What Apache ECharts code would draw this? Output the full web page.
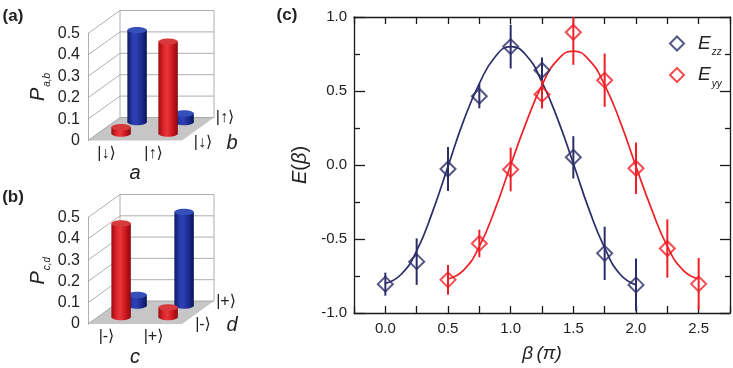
<!DOCTYPE html>
<html><head><meta charset="utf-8">
<script src="https://cdn.jsdelivr.net/npm/echarts@6/dist/echarts.min.js"></script>
<style>html,body{margin:0;padding:0;background:#fff}#c{width:733px;height:368px}</style>
</head><body><div id="c"></div><script>
// ---------- data: panel (a) ----------
const aCats = ['|↓⟩', '|↑⟩'];          // a (front axis)
const bCats = ['|↓⟩', '|↑⟩'];          // b (depth axis: front row, back row)
const Pab_bDown = [0.03, 0.43];        // b = |↓⟩ (red, front row)
const Pab_bUp   = [0.43, 0.04];        // b = |↑⟩ (blue, back row)
// ---------- data: panel (b) ----------
const cCats = ['|-⟩', '|+⟩'];
const dCats = ['|-⟩', '|+⟩'];
const Pcd_dMinus = [0.44, 0.045];      // d = |-⟩ (red, front row)
const Pcd_dPlus  = [0.05, 0.44];       // d = |+⟩ (blue, back row)
const pTicks = [0, 0.1, 0.2, 0.3, 0.4, 0.5];
// ---------- data: panel (c) ----------
const betaZz = [0, 0.25, 0.5, 0.75, 1.0, 1.25, 1.5, 1.75, 2.0];
const Ezz    = [-0.805, -0.653, -0.027, 0.465, 0.80, 0.64, 0.052, -0.597, -0.81];
const EzzErr = [0.078, 0.157, 0.148, 0.082, 0.148, 0.087, 0.143, 0.18, 0.179];
const betaYy = [0.5, 0.75, 1.0, 1.25, 1.5, 1.75, 2.0, 2.25, 2.5];
const Eyy    = [-0.776, -0.53, -0.03, 0.477, 0.897, 0.573, -0.022, -0.564, -0.803];
const EyyErr = [0.10, 0.093, 0.148, 0.095, 0.22, 0.18, 0.174, 0.197, 0.175];
const fitZzX = [0, 0.125, 0.25, 0.375, 0.5, 0.625, 0.75, 0.875, 1.0, 1.125, 1.25, 1.375, 1.5, 1.625, 1.75, 1.875, 2.0];
const fitZzY = [-0.80, -0.74, -0.58, -0.32, -0.01, 0.30, 0.55, 0.73, 0.80, 0.74, 0.56, 0.31, 0.01, -0.30, -0.56, -0.74, -0.81];
const fitYyX = [0.5, 0.625, 0.75, 0.875, 1.0, 1.125, 1.25, 1.375, 1.5, 1.625, 1.75, 1.875, 2.0, 2.125, 2.25, 2.375, 2.5];
const fitYyY = [-0.77, -0.71, -0.55, -0.30, 0.0, 0.29, 0.54, 0.71, 0.77, 0.71, 0.54, 0.29, -0.01, -0.30, -0.55, -0.71, -0.77];

// ---------- styling / layout ----------
const FF = '"Liberation Sans", Arial, "DejaVu Sans", sans-serif';
const NAVY = '#2c2d68', RED = '#ee2127';
const DEPTH = [32, -23];            // oblique offset of the back wall
const ROW_DEPTH = [0.3, 0.8];       // depth fraction of front / back rows
const WALL = '#9a9a9a';
const PAL = [
  {stops: [{offset:0,color:'#9a0b11'},{offset:0.28,color:'#df272d'},{offset:0.45,color:'#e8373b'},{offset:0.75,color:'#c9141b'},{offset:1,color:'#8a0a0f'}], top:'#d73a3c'},
  {stops: [{offset:0,color:'#0e1863'},{offset:0.28,color:'#2a3db0'},{offset:0.45,color:'#2c40b2'},{offset:0.75,color:'#1a2a8c'},{offset:1,color:'#0b1457'}], top:'#3550b8'}
];

function wallRender(params, api) {
  const cs = params.coordSys;
  const x0 = cs.x, x1 = cs.x + cs.width;
  const yb = api.coord([0, 0])[1], yt = api.coord([0, pTicks[pTicks.length-1]])[1];
  const [dx, dy] = DEPTH;
  const ch = [];
  ch.push({type:'polygon', shape:{points:[[x0,yb],[x1,yb],[x1+dx,yb+dy],[x0+dx,yb+dy]]}, style:{fill:'#c6c6c6'}});
  pTicks.forEach(v => {
    const y = api.coord([0, v])[1];
    ch.push({type:'line', shape:{x1:x0+dx, y1:y+dy, x2:x1+dx, y2:y+dy}, style:{stroke:WALL, lineWidth:0.8}});
    ch.push({type:'line', shape:{x1:x0, y1:y, x2:x0+dx, y2:y+dy}, style:{stroke:WALL, lineWidth:0.8}});
  });
  ch.push({type:'line', shape:{x1:x0+dx, y1:yb+dy, x2:x0+dx, y2:yt+dy}, style:{stroke:WALL, lineWidth:0.8}});
  ch.push({type:'line', shape:{x1:x1+dx, y1:yb+dy, x2:x1+dx, y2:yt+dy}, style:{stroke:WALL, lineWidth:0.8}});
  return {type:'group', children: ch};
}

function cylRender(params, api) {
  const i = api.value(0), row = api.value(1), v = api.value(2);
  const t = ROW_DEPTH[row];
  const b = api.coord([i, 0]), tp = api.coord([i, v]);
  const dx = t * DEPTH[0], dy = t * DEPTH[1];
  const cx = b[0] + dx, yb = b[1] + dy, yt = tp[1] + dy;
  const rx = api.size([1, 0])[0] * 0.207, ry = 3.2;
  const pal = PAL[row];
  const grad = () => new echarts.graphic.LinearGradient(0, 0, 1, 0, pal.stops);
  return {type:'group', children:[
    {type:'rect', shape:{x:cx-rx, y:yt, width:2*rx, height:yb-yt}, style:{fill:grad()}},
    {type:'ellipse', shape:{cx:cx, cy:yb, rx:rx, ry:ry}, style:{fill:grad()}},
    {type:'ellipse', shape:{cx:cx, cy:yt, rx:rx, ry:ry}, style:{fill:pal.top}}
  ]};
}

function barData(front, back) {
  return [...back.map((v, i) => [i, 1, v]), ...front.map((v, i) => [i, 0, v])];
}

const pLabelFmt = v => v === 0 ? '0' : v.toFixed(1);
function leftX(idx, cats, name) {
  return {gridIndex: idx, type:'category', data: cats, axisLine:{show:false}, axisTick:{show:false},
    axisLabel:{fontSize:16, color:'#222', fontFamily:FF, margin:5, padding:[0,10,0,0]},
    name: name, nameLocation:'middle', nameGap:23,
    nameTextStyle:{fontSize:20, fontStyle:'italic', color:'#222', fontFamily:FF}};
}
function leftY(idx, sub) {
  return {gridIndex: idx, type:'value', min:0, max:0.5, interval:0.1,
    axisLine:{show:true, lineStyle:{color:WALL, width:0.8}}, axisTick:{show:false}, splitLine:{show:false},
    axisLabel:{fontSize:16, color:'#222', fontFamily:FF, margin:8, formatter:pLabelFmt},
    name:'{p|P}{s|' + sub + '}', nameLocation:'middle', nameGap:40,
    nameTextStyle:{color:'#222', fontFamily:FF, rich:{
      p:{fontSize:20, fontStyle:'italic', fontFamily:FF, color:'#222'},
      s:{fontSize:10, fontStyle:'italic', fontFamily:FF, color:'#222', verticalAlign:'bottom', padding:[0,0,-4,1]}}}};
}

const AX = '#1a1a1a';
const xc = v => (v >= 0 && v <= 2.5 && Math.abs(v*2 - Math.round(v*2)) < 1e-6) ? v.toFixed(1) : '';
function cX(pos, labels) {
  return {gridIndex:2, type:'value', position:pos, min:-0.25, max:2.75, interval:0.25,
    axisLine:{show:true, onZero:false, lineStyle:{color:AX, width:1.3}},
    axisTick:{show:true, inside:true, length:7, lineStyle:{color:AX, width:1.3}},
    splitLine:{show:false},
    axisLabel:{show:labels, formatter:xc, fontSize:15, color:'#222', fontFamily:FF, margin:8},
    name: labels ? '{g|β} {g|(π)}' : '', nameLocation:'middle', nameGap:31,
    nameTextStyle:{color:'#222', rich:{g:{fontSize:19, fontFamily:FF, color:'#222', fontStyle:'italic'}}}};
}
function cY(pos, labels) {
  return {gridIndex:2, type:'value', position:pos, min:-1, max:1, interval:0.5,
    axisLine:{show:true, onZero:false, lineStyle:{color:AX, width:1.3}},
    axisTick:{show:true, inside:true, length:labels ? 11 : 10, lineStyle:{color:AX, width:1.3}},
    minorTick:{show:true, splitNumber:2, length:labels ? 6 : 5, lineStyle:{color:AX, width:1.3}},
    splitLine:{show:false}, minorSplitLine:{show:false},
    axisLabel:{show:labels, formatter:v => v.toFixed(1), fontSize:15, color:'#222', fontFamily:FF, margin:7},
    name: labels ? '{i|E}{n|(}{i|β}{n|)}' : '', nameLocation:'middle', nameGap:38,
    nameTextStyle:{color:'#222', rich:{
      i:{fontSize:20, fontStyle:'italic', fontFamily:FF, color:'#222'},
      n:{fontSize:20, fontFamily:FF, color:'#222'}}}};
}

function errSeries(xs, ys, errs, color) {
  return {type:'custom', xAxisIndex:2, yAxisIndex:2, clip:true, silent:true, z:4,
    data: xs.map((x, i) => [x, ys[i] - errs[i], ys[i] + errs[i]]),
    encode:{x:0, y:[1, 2]},
    renderItem:(p, api) => {
      const lo = api.coord([api.value(0), api.value(1)]);
      const hi = api.coord([api.value(0), api.value(2)]);
      return {type:'line', shape:{x1:lo[0], y1:lo[1], x2:hi[0], y2:hi[1]}, style:{stroke:color, lineWidth:2}};
    }};
}

const txt = (x, y, s, size, extra) => ({type:'text', x:x, y:y, style:Object.assign({text:s, fontSize:size, fontFamily:FF, fill:'#222', align:'center', verticalAlign:'middle'}, extra || {})});

const chart = echarts.init(document.getElementById('c'), null, {renderer:'canvas'});
chart.setOption({
  animation:false,
  backgroundColor:'#fff',
  grid:[
    {left:88, top:33.5, width:94, height:107},
    {left:88, top:217.5, width:94, height:107},
    {left:354, top:17, width:377, height:298}
  ],
  xAxis:[ leftX(0, aCats, 'a'), leftX(1, cCats, 'c'), cX('bottom', true), cX('top', false) ],
  yAxis:[ leftY(0, 'a,b'), leftY(1, 'c,d'), cY('left', true), cY('right', false) ],
  legend:{orient:'vertical', left:664, top:29, itemWidth:14, itemHeight:14, itemGap:8,
    data:['Ezz', 'Eyy'], selectedMode:false,
    formatter: n => '{e|E}{s|' + n.slice(1) + '}',
    textStyle:{rich:{
      e:{fontSize:19, fontStyle:'italic', fontFamily:FF, color:'#222', lineHeight:22, padding:[0,0,0,9]},
      s:{fontSize:10, fontStyle:'italic', fontFamily:FF, color:'#222', verticalAlign:'bottom', lineHeight:22, padding:[0,0,-3,1]}}}},
  graphic:[
    txt(13, 16, '(a)', 17, {fontWeight:'bold'}),
    txt(13, 197, '(b)', 17, {fontWeight:'bold'}),
    txt(287, 15, '(c)', 17, {fontWeight:'bold'}),
    txt(225, 118, bCats[1], 16),
    txt(203, 143, bCats[0], 16),
    txt(232, 143, 'b', 20, {fontStyle:'italic'}),
    txt(226, 302, dCats[1], 16),
    txt(203, 325, dCats[0], 16),
    txt(232, 325, 'd', 20, {fontStyle:'italic'})
  ],
  series:[
    {type:'custom', xAxisIndex:0, yAxisIndex:0, data:[[0,0,0]], encode:{x:0,y:2}, renderItem:wallRender, silent:true, z:1},
    {type:'custom', xAxisIndex:0, yAxisIndex:0, data:barData(Pab_bDown, Pab_bUp), encode:{x:0,y:2}, renderItem:cylRender, silent:true, z:2},
    {type:'custom', xAxisIndex:1, yAxisIndex:1, data:[[0,0,0]], encode:{x:0,y:2}, renderItem:wallRender, silent:true, z:1},
    {type:'custom', xAxisIndex:1, yAxisIndex:1, data:barData(Pcd_dMinus, Pcd_dPlus), encode:{x:0,y:2}, renderItem:cylRender, silent:true, z:2},
    {name:'Ezz fit', type:'line', xAxisIndex:2, yAxisIndex:2, data:fitZzX.map((x,i)=>[x, fitZzY[i]]), smooth:true, showSymbol:false, lineStyle:{color:NAVY, width:1.7}, z:2},
    {name:'Eyy fit', type:'line', xAxisIndex:2, yAxisIndex:2, data:fitYyX.map((x,i)=>[x, fitYyY[i]]), smooth:true, showSymbol:false, lineStyle:{color:RED, width:1.7}, z:2},
    errSeries(betaZz, Ezz, EzzErr, NAVY),
    errSeries(betaYy, Eyy, EyyErr, RED),
    {name:'Ezz', type:'scatter', xAxisIndex:2, yAxisIndex:2, data:betaZz.map((x,i)=>[x, Ezz[i]]), symbol:'diamond', symbolSize:15,
      itemStyle:{color:'rgba(255,255,255,0)', borderColor:NAVY, borderWidth:2}, z:5},
    {name:'Eyy', type:'scatter', xAxisIndex:2, yAxisIndex:2, data:betaYy.map((x,i)=>[x, Eyy[i]]), symbol:'diamond', symbolSize:15,
      itemStyle:{color:'rgba(255,255,255,0)', borderColor:RED, borderWidth:2}, z:5}
  ]
});
</script></body></html>
